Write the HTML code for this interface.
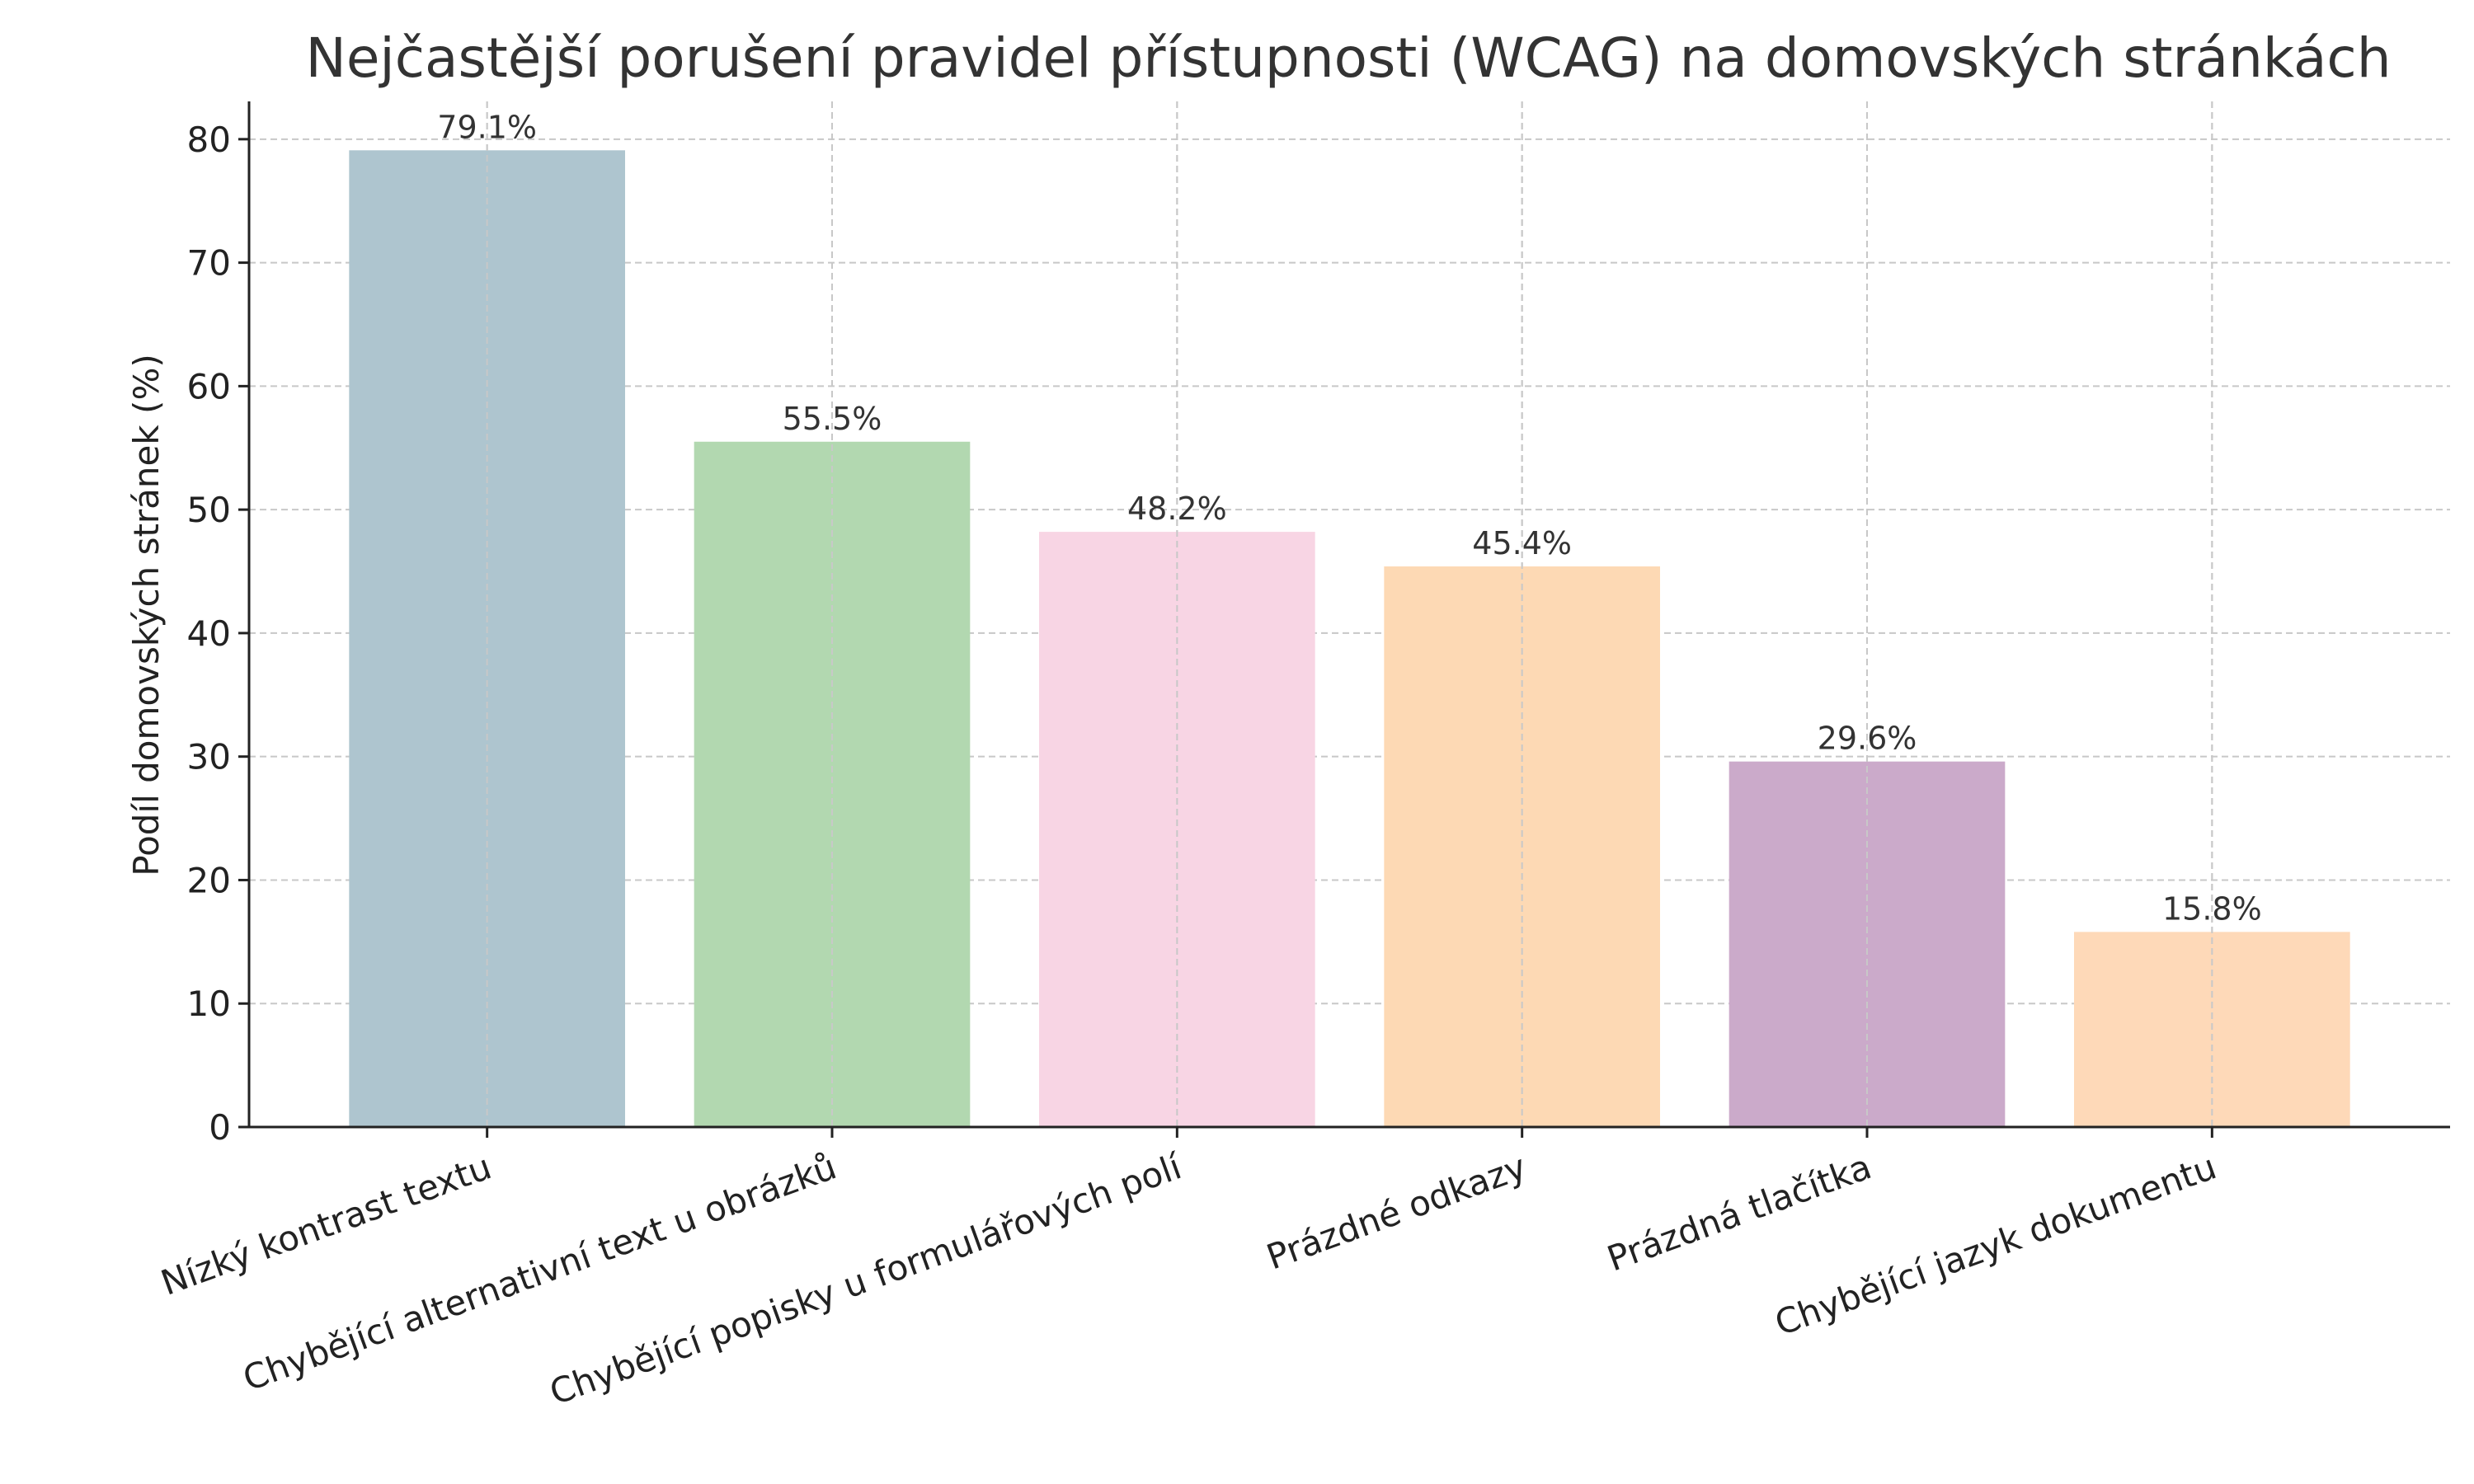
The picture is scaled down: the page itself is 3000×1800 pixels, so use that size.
<!DOCTYPE html>
<html><head><meta charset="utf-8"><style>
html,body{margin:0;padding:0;background:#fff;}
svg{display:block;font-family:"DejaVu Sans","Liberation Sans",sans-serif;}
</style></head><body>
<svg id="chart" width="3000" height="1800" viewBox="0 0 3000 1800">
<text x="1635" y="93" text-anchor="middle" font-size="66" fill="#333">Nejčastější porušení pravidel přístupnosti (WCAG) na domovských stránkách</text>
<text transform="translate(192,746) rotate(-90)" text-anchor="middle" font-size="42" fill="#222">Podíl domovských stránek (%)</text>
<g id="grid"></g><g id="bars"></g><g id="axes"></g><g id="labels"></g>
</svg>
<script>
const categories = ["Nízký kontrast textu","Chybějící alternativní text u obrázků","Chybějící popisky u formulářových polí","Prázdné odkazy","Prázdná tlačítka","Chybějící jazyk dokumentu"];
const values = [79.1, 55.5, 48.2, 45.4, 29.6, 15.8];
const valueLabels = ["79.1%","55.5%","48.2%","45.4%","29.6%","15.8%"];
const yTicks = [0,10,20,30,40,50,60,70,80];
const colors = ["#aec5cf","#b2d8b0","#f8d5e4","#fdd9b4","#cbaaca","#fed9b8"];

const L=302, R=2971, B=1367, T=123;
const yMax = 83.06;
const xMin=-0.69, xMax=categories.length-1+0.69;
const xs = i => L + (i - xMin)/(xMax - xMin)*(R-L);
const ys = v => B - v/yMax*(B-T);
const bw = 0.8*(R-L)/(xMax-xMin);
const NS="http://www.w3.org/2000/svg";
function mk(tag, parent, attrs){const e=document.createElementNS(NS,tag);for(const k in attrs)e.setAttribute(k,attrs[k]);document.getElementById(parent).appendChild(e);return e;}

yTicks.forEach(t=>{
  const g=mk('line','grid',{x1:L,x2:R,y1:ys(t),y2:ys(t),stroke:'#c8c8c8','stroke-width':2,'stroke-dasharray':'8,5'});
  
  
  const tk=mk('line','axes',{x1:L-13,x2:L,y1:ys(t),y2:ys(t),stroke:'#222','stroke-width':3});
  
  
  const tl=mk('text','labels',{x:L-22,y:ys(t)+15,'text-anchor':'end','font-size':42,fill:'#222'});
  tl.textContent=t;
  
  
});
categories.forEach((c,i)=>{
  const x=xs(i);
  const g=mk('line','grid',{x1:x,x2:x,y1:T,y2:B,stroke:'#c8c8c8','stroke-width':2,'stroke-dasharray':'8,5'});
  
  
});
values.forEach((v,i)=>{
  const x=xs(i);
  const r=mk('rect','bars',{x:x-bw/2,y:ys(v),width:bw,height:B-ys(v),fill:colors[i]});
  
  
  const vl=mk('text','labels',{x:x,y:ys(v)-15,'text-anchor':'middle','font-size':38,fill:'#333'});
  vl.textContent=valueLabels[i];
  
  
});
// re-draw x gridlines over bars (matplotlib grid drawn above bars)
categories.forEach((c,i)=>{
  const x=xs(i);
  const g=mk('line','bars',{x1:x,x2:x,y1:T,y2:B,stroke:'#c8c8c8','stroke-width':2,'stroke-dasharray':'8,5'});
  
  
  const tk=mk('line','axes',{x1:x,x2:x,y1:B,y2:B+13,stroke:'#222','stroke-width':3});
  
  
  const tl=mk('text','labels',{x:0,y:0,'text-anchor':'end','font-size':42,fill:'#222',transform:'translate('+(x+8)+','+(B+60)+') rotate(-20)'});
  tl.textContent=c;
  
  
});
const ya=mk('line','axes',{x1:L,x2:L,y1:T,y2:B+1.5,stroke:'#222','stroke-width':3});


const xa=mk('line','axes',{x1:L-1.5,x2:R,y1:B,y2:B,stroke:'#222','stroke-width':3});


</script>
</body></html>
